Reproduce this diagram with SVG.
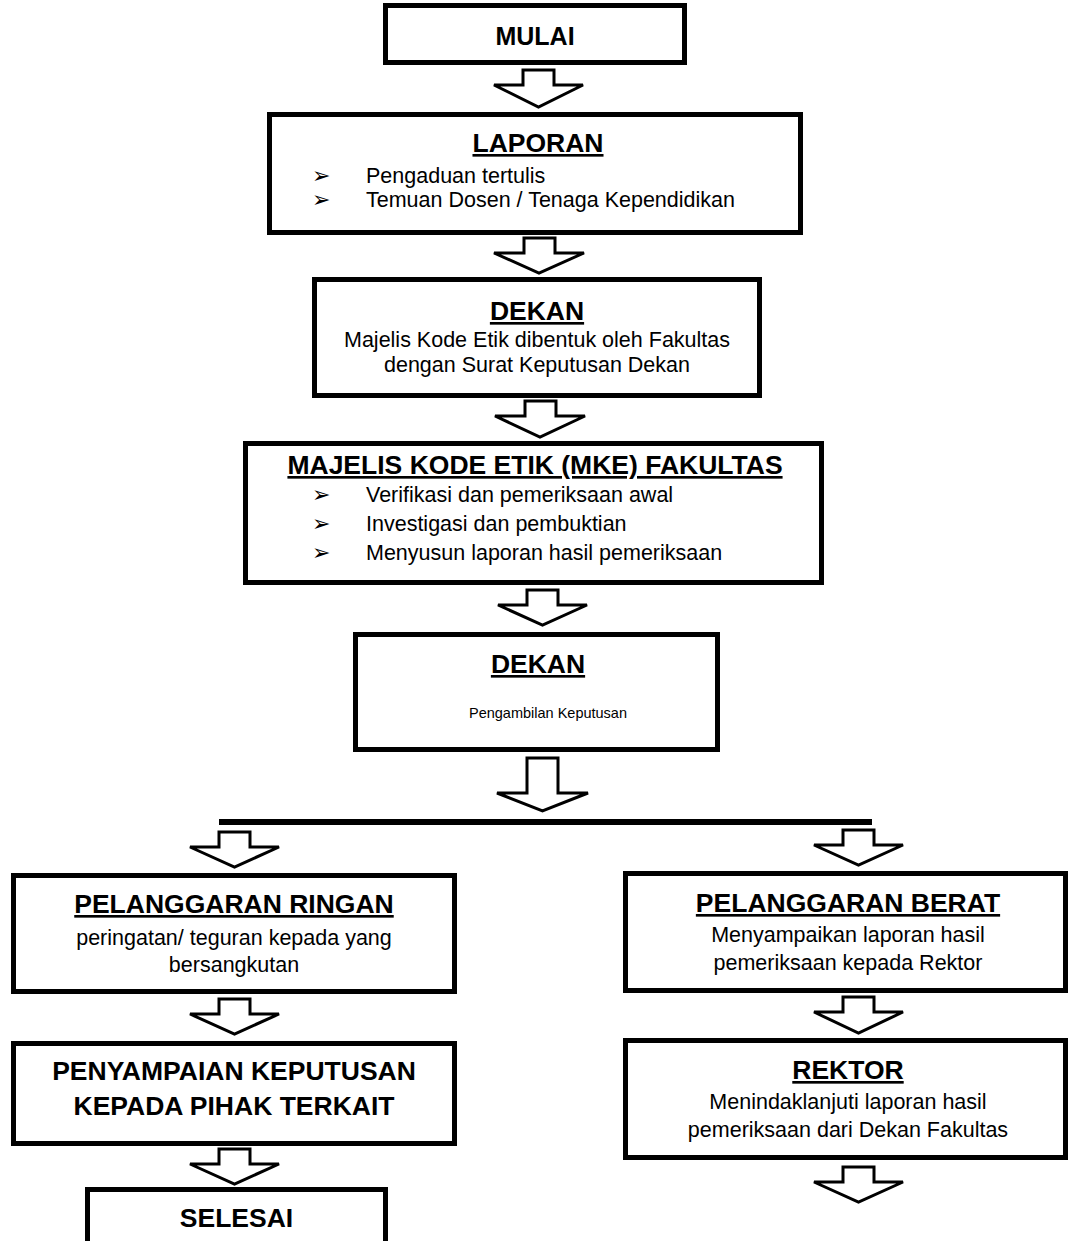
<svg xmlns="http://www.w3.org/2000/svg" width="1068" height="1241" viewBox="0 0 1068 1241">
<style>
.box{fill:#fff;stroke:#000;stroke-width:5}
.arr{fill:#fff;stroke:#000;stroke-width:3;stroke-linejoin:miter}
.t{font-family:"Liberation Sans",Arial,sans-serif;font-weight:bold;font-size:26.5px;text-anchor:middle;fill:#000}
.u{text-decoration:underline}
.b{font-family:"Liberation Sans",Arial,sans-serif;font-size:21.5px;fill:#000}
.c{text-anchor:middle}
.bl{font-family:"DejaVu Sans",sans-serif;font-size:22px;fill:#000}
</style>
<rect width="1068" height="1241" fill="#fff"/>
<g id="connectors">
<path class="arr" d="M523,70 H554 V85 H583 L538.5,107 L494,85 H523 Z"/>
<path class="arr" d="M524,238 H555 V253 H584 L539,273 L494,253 H524 Z"/>
<path class="arr" d="M525,401 H556 V416 H585 L540,437 L495,416 H525 Z"/>
<path class="arr" d="M527,590 H558 V605 H587 L542.5,625 L498,605 H527 Z"/>
<path class="arr" d="M527,758 H558 V793 H588 L542.5,811 L497,793 H527 Z"/>
<line x1="219" y1="822" x2="872" y2="822" stroke="#000" stroke-width="6"/>
<path class="arr" d="M219,832 H250 V847 H279 L234.5,867 L190,847 H219 Z"/>
<path class="arr" d="M843,830 H874 V845 H903 L858.5,865 L814,845 H843 Z"/>
<path class="arr" d="M219,999 H250 V1014 H279 L234.5,1034 L190,1014 H219 Z"/>
<path class="arr" d="M219,1149 H250 V1164 H279 L234.5,1184 L190,1164 H219 Z"/>
<path class="arr" d="M843,997 H874 V1012 H903 L858.5,1033 L814,1012 H843 Z"/>
<path class="arr" d="M843,1167 H874 V1182 H903 L858.5,1202 L814,1182 H843 Z"/>
</g>
<g id="mulai">
<rect class="box" x="385.5" y="5.5" width="299" height="57"/>
<text class="t" x="535" y="45" style="font-size:25px">MULAI</text>
</g>
<g id="laporan">
<rect class="box" x="269.5" y="114.5" width="531" height="118"/>
<text class="t u" x="538" y="152">LAPORAN</text>
<text class="bl" x="312" y="183">➢</text>
<text class="b" x="366" y="183">Pengaduan tertulis</text>
<text class="bl" x="312" y="207">➢</text>
<text class="b" x="366" y="207">Temuan Dosen / Tenaga Kependidikan</text>
</g>
<g id="dekan1">
<rect class="box" x="314.5" y="279.5" width="445" height="116"/>
<text class="t u" x="537" y="320">DEKAN</text>
<text class="b c" x="537" y="347">Majelis Kode Etik dibentuk oleh Fakultas</text>
<text class="b c" x="537" y="372">dengan Surat Keputusan Dekan</text>
</g>
<g id="mke">
<rect class="box" x="245.5" y="443.5" width="576" height="139"/>
<text class="t u" x="535" y="474">MAJELIS KODE ETIK (MKE) FAKULTAS</text>
<text class="bl" x="312" y="502">➢</text>
<text class="b" x="366" y="502">Verifikasi dan pemeriksaan awal</text>
<text class="bl" x="312" y="531">➢</text>
<text class="b" x="366" y="531">Investigasi dan  pembuktian</text>
<text class="bl" x="312" y="560">➢</text>
<text class="b" x="366" y="560">Menyusun laporan hasil pemeriksaan</text>
</g>
<g id="dekan2">
<rect class="box" x="355.5" y="634.5" width="362" height="115"/>
<text class="t u" x="538" y="673">DEKAN</text>
<text class="b c" x="548" y="718" style="font-size:14.5px">Pengambilan Keputusan</text>
</g>
<g id="ringan">
<rect class="box" x="13.5" y="875.5" width="441" height="116"/>
<text class="t u" x="234" y="913">PELANGGARAN RINGAN</text>
<text class="b c" x="234" y="945">peringatan/ teguran kepada yang</text>
<text class="b c" x="234" y="972">bersangkutan</text>
</g>
<g id="penyampaian">
<rect class="box" x="13.5" y="1043.5" width="441" height="100"/>
<text class="t" x="234" y="1080">PENYAMPAIAN KEPUTUSAN</text>
<text class="t" x="234" y="1115">KEPADA PIHAK TERKAIT</text>
</g>
<g id="selesai">
<rect class="box" x="87.5" y="1189.5" width="298" height="70"/>
<text class="t" x="236.5" y="1227">SELESAI</text>
</g>
<g id="berat">
<rect class="box" x="625.5" y="873.5" width="440" height="117"/>
<text class="t u" x="848" y="912">PELANGGARAN BERAT</text>
<text class="b c" x="848" y="942">Menyampaikan laporan hasil</text>
<text class="b c" x="848" y="970">pemeriksaan kepada Rektor</text>
</g>
<g id="rektor">
<rect class="box" x="625.5" y="1040.5" width="440" height="117"/>
<text class="t u" x="848" y="1079">REKTOR</text>
<text class="b c" x="848" y="1109">Menindaklanjuti laporan hasil</text>
<text class="b c" x="848" y="1137">pemeriksaan dari Dekan Fakultas</text>
</g>
</svg>
